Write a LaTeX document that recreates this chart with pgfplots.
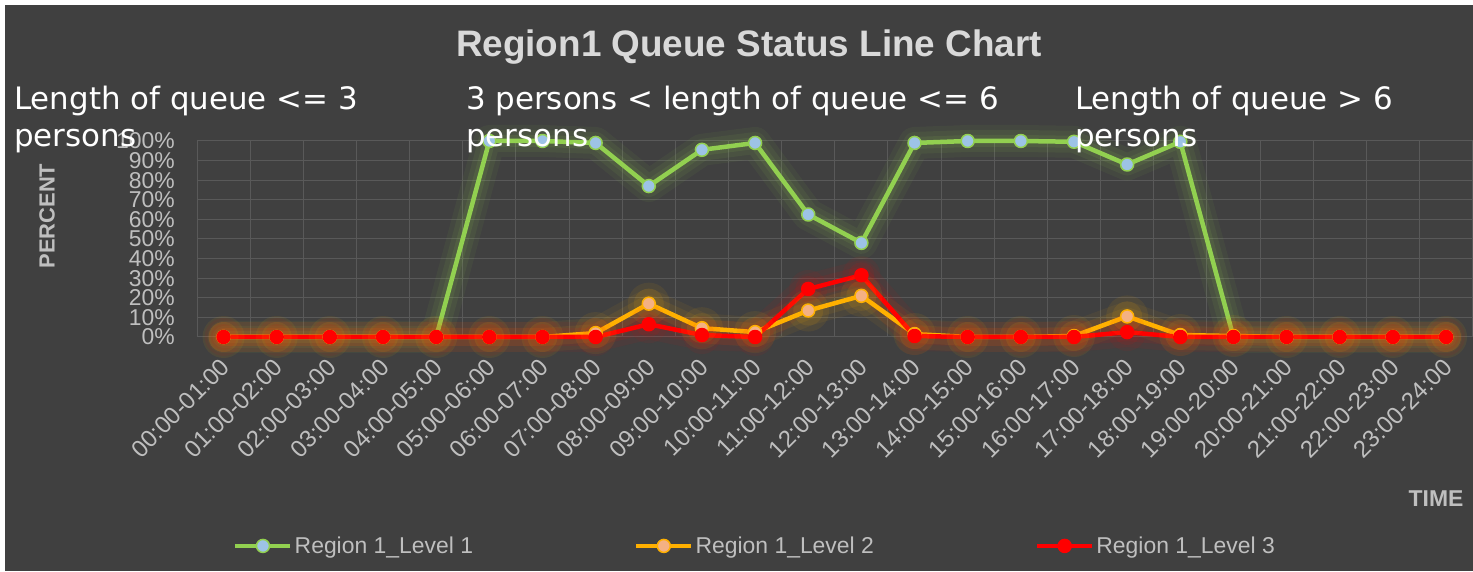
\documentclass[border=0pt]{standalone}
\usepackage{pgfplots}
\pgfplotsset{compat=1.18}
\usepackage{pgfplotstable}
\usepackage{fontspec}
\setmainfont{Liberation Sans}
\newfontfamily\dejavu{DejaVu Sans}
\definecolor{bg}{HTML}{404040}
\definecolor{gridc}{HTML}{595959}
\definecolor{lbl}{HTML}{BFBFBF}
\definecolor{ttl}{HTML}{D9D9D9}
\definecolor{cA}{HTML}{92D050}
\definecolor{cAf}{HTML}{9DC3E6}
\definecolor{cB}{HTML}{FFB000}
\definecolor{cBf}{HTML}{F4B183}
\definecolor{cC}{HTML}{FF0000}

\pgfplotstableread{
x l1 l2 l3
0 0 0 0
1 0 0 0
2 0 0 0
3 0 0 0
4 0 0 0
5 100 0 0
6 100 0 0
7 99 2 0
8 77 17 6.5
9 95.5 4.5 1
10 99 2.5 0
11 62.5 13.5 24.5
12 48 21 31.5
13 99 1.5 0.5
14 100 0 0
15 100 0 0
16 99.6 0.5 0
17 88 10.5 2.5
18 99.6 1 0
19 0 0.5 0
20 0 0 0
21 0 0 0
22 0 0 0
23 0 0 0
}\datatable

\pgfplotsset{
  glowline/.style={forget plot, opacity=#1, line join=round, line cap=round},
  glowmark/.style 2 args={forget plot, only marks, mark=*, mark size=#1, mark options={line width=0pt, draw opacity=0, fill opacity=#2}},
}

\begin{document}
\begin{tikzpicture}[x=1bp,y=1bp]
\useasboundingbox (0,0) rectangle (1473,572);
\fill[white] (0,0) rectangle (1473,572);
\fill[bg] (5,1) rectangle (1473,567);
\begin{axis}[
  at={(197bp,235bp)}, anchor=south west,
  width=1275.6bp, height=196bp, scale only axis,
  xmin=-0.5, xmax=23.5, ymin=0, ymax=100,
  axis line style={draw=none},
  major tick length=0pt, minor tick length=0pt,
  xtick={0,...,23},
  xticklabels={00:00-01:00,01:00-02:00,02:00-03:00,03:00-04:00,04:00-05:00,05:00-06:00,06:00-07:00,07:00-08:00,08:00-09:00,09:00-10:00,10:00-11:00,11:00-12:00,12:00-13:00,13:00-14:00,14:00-15:00,15:00-16:00,16:00-17:00,17:00-18:00,18:00-19:00,19:00-20:00,20:00-21:00,21:00-22:00,22:00-23:00,23:00-24:00},
  minor xtick={-0.5,0.5,...,23.5},
  xminorgrids,
  ytick={0,10,...,100},
  yticklabels={0\%,10\%,20\%,30\%,40\%,50\%,60\%,70\%,80\%,90\%,100\%},
  ymajorgrids,
  major grid style={draw=gridc, line width=1bp},
  minor grid style={draw=gridc, line width=1bp},
  xticklabel style={font=\fontsize{24}{24}\selectfont, text=lbl, inner sep=0pt, xshift=2bp, yshift=-26bp, rotate=45, anchor=east},
  yticklabel style={font=\fontsize{23}{23}\selectfont, text=lbl, inner sep=0pt, xshift=-22bp, anchor=east},
  clip=false,
  legend columns=3,
  legend style={at={(axis description cs:0.0259,-1.066)}, anchor=west, draw=none, fill=none,
    font=\fontsize{23}{23}\selectfont, text=lbl, nodes={inner sep=2bp},
    /tikz/every even column/.append style={column sep=159bp}},
  legend image code/.code={\draw[mark repeat=2,mark phase=2,#1] plot coordinates {(0bp,0bp) (27.5bp,0bp) (55bp,0bp)};},
]
% glow layers: Level 1
\addplot[cA, glowline=0.06, line width=32bp] table[x=x,y=l1]{\datatable};
\addplot[cA, glowline=0.08, line width=22bp] table[x=x,y=l1]{\datatable};
\addplot[cA, glowline=0.10, line width=12bp] table[x=x,y=l1]{\datatable};
% glow layers: Level 2
\addplot[cB, glowline=0.06, line width=30bp] table[x=x,y=l2]{\datatable};
\addplot[cB, glowline=0.08, line width=18bp] table[x=x,y=l2]{\datatable};
\addplot[cB, glowmark={21bp}{0.08}] table[x=x,y=l2]{\datatable};
\addplot[cB, glowmark={15bp}{0.10}] table[x=x,y=l2]{\datatable};
% glow layers: Level 3
\addplot[cC, glowline=0.06, line width=30bp] table[x=x,y=l3]{\datatable};
\addplot[cC, glowline=0.08, line width=18bp] table[x=x,y=l3]{\datatable};
\addplot[cC, glowmark={19bp}{0.06}] table[x=x,y=l3]{\datatable};
\addplot[cC, glowmark={13bp}{0.08}] table[x=x,y=l3]{\datatable};
% series
\addplot[cA, line width=4.5bp, line join=round, mark=*, mark size=6.5bp, mark options={fill=cAf, draw=cA, line width=1.5bp}] table[x=x,y=l1]{\datatable};
\addlegendentry{Region 1\_Level 1}
\addplot[cB, line width=4.5bp, line join=round, mark=*, mark size=6.5bp, mark options={fill=cBf, draw=cB, line width=1.5bp}] table[x=x,y=l2]{\datatable};
\addlegendentry{Region 1\_Level 2}
\addplot[cC, line width=4.5bp, line join=round, mark=*, mark size=6.5bp, mark options={fill=cC, draw=cC, line width=1.5bp}] table[x=x,y=l3]{\datatable};
\addlegendentry{Region 1\_Level 3}
\end{axis}
% title and labels
\node[text=ttl, font=\fontsize{37}{37}\selectfont\bfseries] at (749,525) {Region1 Queue Status Line Chart};
\node[text=lbl, font=\fontsize{22}{22}\selectfont\bfseries, rotate=90] at (47,356) {PERCENT};
\node[text=lbl, font=\fontsize{23}{23}\selectfont\bfseries] at (1436,73) {TIME};
% annotations
\begin{scope}[every node/.style={text=white, font=\dejavu\fontsize{31}{31}\selectfont, anchor=base west, inner sep=0pt}]
\node at (14,462) {Length of queue <= 3};
\node at (14,425) {persons};
\node at (466,462) {3 persons < length of queue <= 6};
\node at (466,425) {persons};
\node at (1075,462) {Length of queue > 6};
\node at (1075,425) {persons};
\end{scope}
\end{tikzpicture}
\end{document}
